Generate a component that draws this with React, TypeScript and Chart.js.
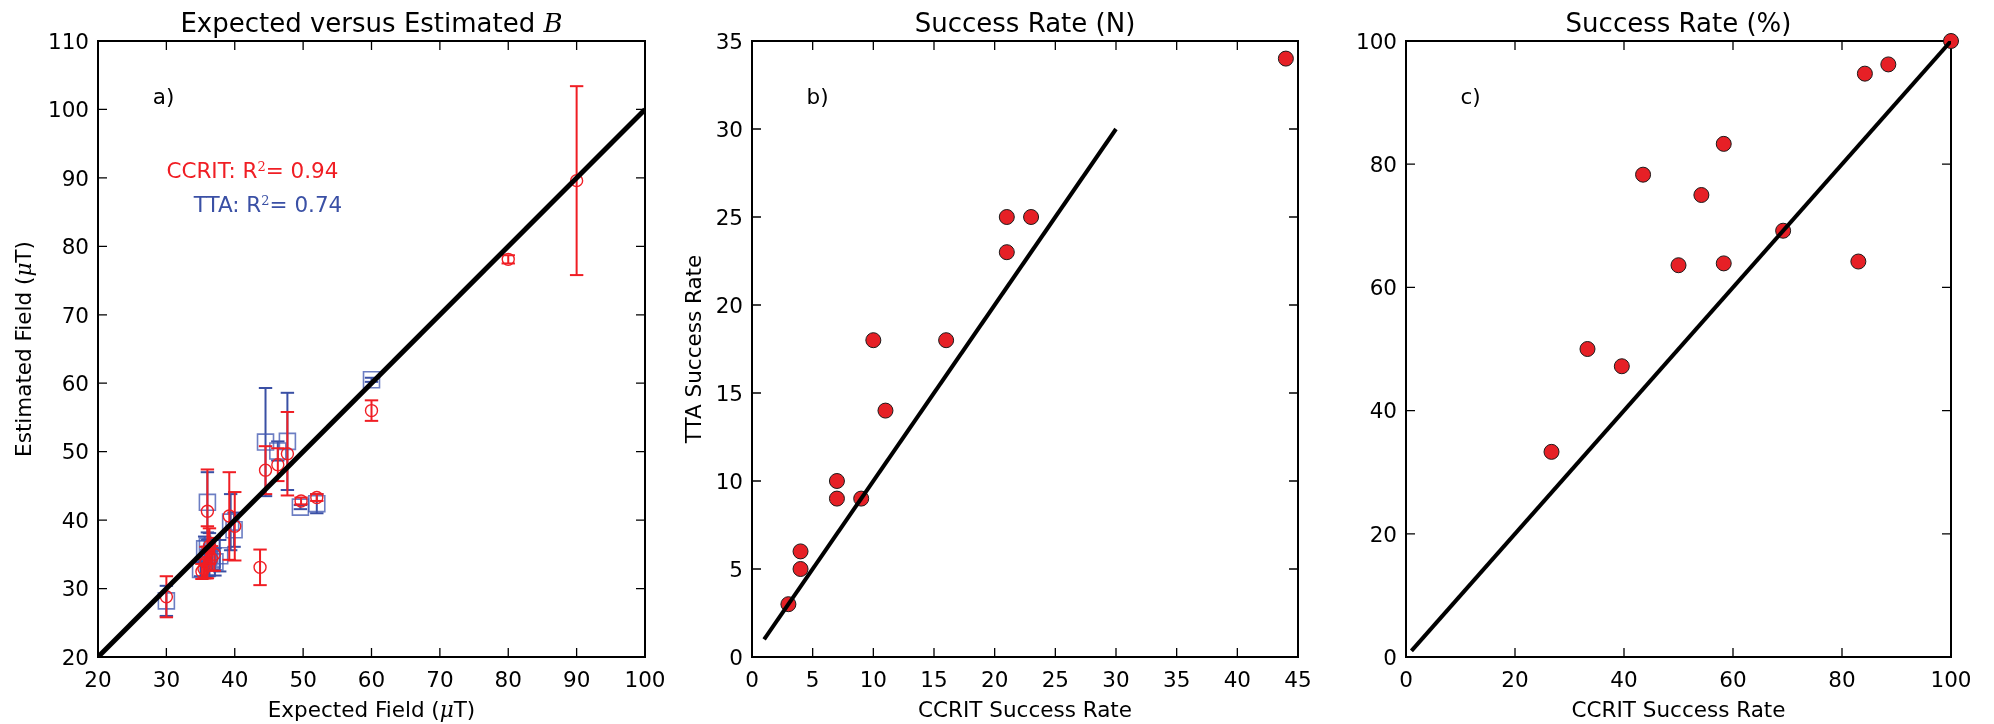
import React, { useEffect, useRef } from "react";
import { Chart, registerables } from "chart.js";
Chart.register(...registerables);

// ---------- Panel a: Expected versus Estimated B ----------
const ccritExpected = [30, 36, 39.2, 40, 43.7, 44.5, 46.3, 47.7, 49.7, 52, 60, 80, 90, 35.2, 35.5, 35.8, 36.0, 36.3, 36.6, 37.0];
const ccritEstimated = [28.8, 41.3, 40.6, 39.1, 33.1, 47.3, 48.1, 49.7, 42.8, 43.3, 56.0, 78.1, 89.6, 32.5, 32.9, 33.8, 35.3, 36.2, 34.4, 35.0];
const ccritError = [3.0, 6.1, 6.4, 5.0, 2.6, 3.5, 2.4, 6.1, 0.5, 0.5, 1.5, 0.6, 13.8, 1.1, 1.4, 2.3, 3.8, 2.6, 1.8, 2.4];

const ttaExpected = [30, 36, 39.4, 39.9, 44.5, 46.3, 47.7, 49.6, 52, 60, 35.0, 35.6, 36.0, 36.3, 36.7, 37.1, 37.8, 36.2];
const ttaEstimated = [28.2, 42.6, 39.7, 38.6, 51.4, 50.1, 51.5, 41.9, 42.4, 60.5, 32.8, 35.8, 36.2, 35.0, 34.3, 33.9, 34.8, 34.5];
const ttaError = [2.2, 4.4, 4.1, 2.5, 7.9, 1.4, 7.1, 0.3, 1.4, 0.3, 1.0, 1.8, 0.9, 3.1, 1.5, 2.0, 2.3, 2.7];

const identityA = [20, 100];
const xTicksA = { min: 20, max: 100, step: 10 };
const yTicksA = { min: 20, max: 110, step: 10 };

// ---------- Panel b: Success Rate (N) ----------
const ccritCount = [44, 21, 23, 21, 10, 16, 11, 7, 7, 9, 4, 4, 3];
const ttaCount = [34, 25, 25, 23, 18, 18, 14, 10, 9, 9, 6, 5, 3];
const identityB = [1, 30];
const xTicksB = { min: 0, max: 45, step: 5 };
const yTicksB = { min: 0, max: 35, step: 5 };

// ---------- Panel c: Success Rate (%) ----------
const ccritPct = [100, 84.2, 88.5, 58.3, 43.5, 54.2, 69.2, 50.0, 58.3, 83.0, 33.3, 39.6, 26.7];
const ttaPct = [100, 94.7, 96.2, 83.3, 78.3, 75.0, 69.2, 63.6, 63.9, 64.2, 50.0, 47.2, 33.3];
const identityC = [1, 100];
const xTicksC = { min: 0, max: 100, step: 20 };
const yTicksC = { min: 0, max: 100, step: 20 };

// ---------- Styling ----------
const W = 1994;
const H = 724;
const PLOT_TOP = 41;
const PLOT_BOTTOM = 657;
const SANS = '"DejaVu Sans"';
const SERIF = '"DejaVu Serif"';
const F_TICK = `21.5px ${SANS}`;
const F_LABEL = `21.5px ${SANS}`;
const F_TITLE = `26px ${SANS}`;
const RED = "rgb(240,30,36)";
const BLUE = "rgb(58,80,165)";
const BLUE_SQ = "rgba(66,90,178,0.78)";
const FILL_RED = "rgb(230,32,38)";

type Seg = { t: string; f: string; dy?: number };
type Note = { segs: Seg[]; color: string; x: number; y: number; frac?: boolean };

function pts(xs: number[], ys: number[]) {
  return xs.map((x, i) => ({ x, y: ys[i] }));
}
function stems(xs: number[], ys: number[], es: number[]) {
  const out: any[] = [];
  xs.forEach((x, i) => {
    out.push({ x, y: ys[i] - es[i] }, { x, y: ys[i] + es[i] }, { x, y: null });
  });
  return out;
}
function caps(xs: number[], ys: number[], es: number[]) {
  const out: any[] = [];
  xs.forEach((x, i) => {
    out.push({ x, y: ys[i] - es[i] }, { x, y: ys[i] + es[i] });
  });
  return out;
}

function drawSegs(ctx: CanvasRenderingContext2D, segs: Seg[], x: number, y: number, align: "left" | "center") {
  ctx.save();
  ctx.textAlign = "left";
  ctx.textBaseline = "alphabetic";
  let total = 0;
  const widths = segs.map((s) => {
    ctx.font = s.f;
    const w = ctx.measureText(s.t).width;
    total += w;
    return w;
  });
  let cx = align === "center" ? x - total / 2 : x;
  segs.forEach((s, i) => {
    ctx.font = s.f;
    ctx.fillText(s.t, cx, y + (s.dy || 0));
    cx += widths[i];
  });
  ctx.restore();
}

interface Spec {
  key: string;
  canvasLeft: number;
  canvasWidth: number;
  plotLeft: number;
  plotRight: number;
  xt: { min: number; max: number; step: number };
  yt: { min: number; max: number; step: number };
  title: Seg[];
  xLabel: Seg[];
  yLabel?: Seg[];
  yLabelX?: number;
  notes: Note[];
  datasets: any[];
}

function framePlugin(spec: Spec) {
  return {
    id: "frame_" + spec.key,
    beforeDatasetsDraw(chart: any) {
      const ctx: CanvasRenderingContext2D = chart.ctx;
      const a = chart.chartArea;
      const xs = chart.scales.x;
      const ys = chart.scales.y;
      const TL = 9;
      ctx.save();
      ctx.strokeStyle = "#000";
      ctx.lineWidth = 1.3;
      ctx.beginPath();
      xs.ticks.forEach((t: any) => {
        const px = xs.getPixelForValue(t.value);
        ctx.moveTo(px, a.bottom);
        ctx.lineTo(px, a.bottom - TL);
        ctx.moveTo(px, a.top);
        ctx.lineTo(px, a.top + TL);
      });
      ys.ticks.forEach((t: any) => {
        const py = ys.getPixelForValue(t.value);
        ctx.moveTo(a.left, py);
        ctx.lineTo(a.left + TL, py);
        ctx.moveTo(a.right, py);
        ctx.lineTo(a.right - TL, py);
      });
      ctx.stroke();
      ctx.lineWidth = 2;
      ctx.strokeRect(a.left, a.top, a.right - a.left, a.bottom - a.top);
      ctx.restore();
    },
    afterDraw(chart: any) {
      const ctx: CanvasRenderingContext2D = chart.ctx;
      const a = chart.chartArea;
      const xs = chart.scales.x;
      const ys = chart.scales.y;
      ctx.save();
      ctx.fillStyle = "#000";
      ctx.font = F_TICK;
      ctx.textBaseline = "alphabetic";
      ctx.textAlign = "center";
      xs.ticks.forEach((t: any) => {
        ctx.fillText(String(t.value), xs.getPixelForValue(t.value), a.bottom + 29.5);
      });
      ctx.textAlign = "right";
      ys.ticks.forEach((t: any) => {
        ctx.fillText(String(t.value), a.left - 9, ys.getPixelForValue(t.value) + 7.8);
      });

      const cx = (a.left + a.right) / 2;
      drawSegs(ctx, spec.title, cx, 31.5, "center");
      drawSegs(ctx, spec.xLabel, cx, 716.5, "center");
      if (spec.yLabel) {
        ctx.save();
        ctx.translate(spec.yLabelX as number, (a.top + a.bottom) / 2);
        ctx.rotate(-Math.PI / 2);
        drawSegs(ctx, spec.yLabel, 0, 0, "center");
        ctx.restore();
      }
      spec.notes.forEach((n) => {
        ctx.fillStyle = n.color;
        let px: number, py: number;
        if (n.frac) {
          px = a.left + n.x * (a.right - a.left);
          py = a.bottom - n.y * (a.bottom - a.top) + 1;
        } else {
          px = xs.getPixelForValue(n.x);
          py = ys.getPixelForValue(n.y);
        }
        drawSegs(ctx, n.segs, px, py, "left");
      });
      ctx.restore();
    },
  };
}

function makeConfig(spec: Spec): any {
  return {
    type: "scatter",
    data: { datasets: spec.datasets },
    options: {
      animation: false,
      responsive: false,
      devicePixelRatio: 1,
      events: [],
      layout: {
        padding: {
          top: PLOT_TOP,
          bottom: 0,
          left: 0,
          right: spec.canvasWidth - (spec.plotRight - spec.canvasLeft),
        },
      },
      plugins: { legend: { display: false }, tooltip: { enabled: false }, title: { display: false } },
      scales: {
        x: {
          type: "linear",
          position: "bottom",
          min: spec.xt.min,
          max: spec.xt.max,
          ticks: { display: false, stepSize: spec.xt.step, autoSkip: false },
          grid: { display: false },
          border: { display: false },
          afterFit: (s: any) => {
            s.height = H - PLOT_BOTTOM;
          },
        },
        y: {
          type: "linear",
          position: "left",
          min: spec.yt.min,
          max: spec.yt.max,
          ticks: { display: false, stepSize: spec.yt.step, autoSkip: false },
          grid: { display: false },
          border: { display: false },
          afterFit: (s: any) => {
            s.width = spec.plotLeft - spec.canvasLeft;
          },
        },
      },
    },
    plugins: [framePlugin(spec)],
  };
}

const lineDs = (xs: number[], width: number, order: number) => ({
  data: pts(xs, xs),
  showLine: true,
  borderColor: "#000",
  borderWidth: width,
  pointRadius: 0,
  order,
});

const datasetsA = [
  lineDs(identityA, 5, 0),
  {
    data: pts(ccritExpected, ccritEstimated),
    pointStyle: "circle",
    pointRadius: 6,
    pointBorderWidth: 1.4,
    borderColor: RED,
    pointBorderColor: RED,
    backgroundColor: "rgba(0,0,0,0)",
    pointBackgroundColor: "rgba(0,0,0,0)",
    order: 1,
  },
  {
    data: caps(ccritExpected, ccritEstimated, ccritError),
    pointStyle: "line",
    pointRadius: 6.7,
    pointBorderWidth: 2,
    borderColor: RED,
    pointBorderColor: RED,
    order: 2,
  },
  {
    data: stems(ccritExpected, ccritEstimated, ccritError),
    showLine: true,
    spanGaps: false,
    borderColor: RED,
    borderWidth: 2,
    pointRadius: 0,
    order: 3,
  },
  {
    data: pts(ttaExpected, ttaEstimated),
    pointStyle: "rect",
    pointRadius: 11.3,
    pointBorderWidth: 1.6,
    borderColor: BLUE_SQ,
    pointBorderColor: BLUE_SQ,
    backgroundColor: "rgba(0,0,0,0)",
    pointBackgroundColor: "rgba(0,0,0,0)",
    order: 4,
  },
  {
    data: caps(ttaExpected, ttaEstimated, ttaError),
    pointStyle: "line",
    pointRadius: 6.7,
    pointBorderWidth: 2,
    borderColor: BLUE,
    pointBorderColor: BLUE,
    order: 5,
  },
  {
    data: stems(ttaExpected, ttaEstimated, ttaError),
    showLine: true,
    spanGaps: false,
    borderColor: BLUE,
    borderWidth: 2,
    pointRadius: 0,
    order: 6,
  },
];

const markerDs = (xs: number[], ys: number[]) => ({
  data: pts(xs, ys),
  pointStyle: "circle",
  pointRadius: 7.5,
  pointBorderWidth: 1,
  borderColor: "#1a1a1a",
  pointBorderColor: "#1a1a1a",
  backgroundColor: FILL_RED,
  pointBackgroundColor: FILL_RED,
  clip: false,
  order: 1,
});

const datasetsB = [lineDs(identityB, 4, 0), markerDs(ccritCount, ttaCount)];
const datasetsC = [lineDs(identityC, 4, 0), markerDs(ccritPct, ttaPct)];

const mu = (): Seg => ({ t: "\u03bc", f: `italic 21.5px ${SERIF}` });

const specs: Spec[] = [
  {
    key: "a",
    canvasLeft: 0,
    canvasWidth: 700,
    plotLeft: 98,
    plotRight: 645,
    xt: xTicksA,
    yt: yTicksA,
    title: [
      { t: "Expected versus Estimated ", f: F_TITLE },
      { t: "B", f: `italic 26px ${SERIF}` },
    ],
    xLabel: [{ t: "Expected Field (", f: F_LABEL }, mu(), { t: "T)", f: F_LABEL }],
    yLabel: [{ t: "Estimated Field (", f: F_LABEL }, mu(), { t: "T)", f: F_LABEL }],
    yLabelX: 30.5,
    notes: [
      { segs: [{ t: "a)", f: F_LABEL }], color: "#000", x: 0.1, y: 0.9, frac: true },
      {
        segs: [
          { t: "CCRIT: R", f: F_LABEL },
          { t: "2", f: `13px ${SERIF}`, dy: -7 },
          { t: "= 0.94", f: F_LABEL },
        ],
        color: RED,
        x: 30,
        y: 90,
      },
      {
        segs: [
          { t: "TTA: R", f: F_LABEL },
          { t: "2", f: `13px ${SERIF}`, dy: -7 },
          { t: "= 0.74", f: F_LABEL },
        ],
        color: BLUE,
        x: 34,
        y: 85,
      },
    ],
    datasets: datasetsA,
  },
  {
    key: "b",
    canvasLeft: 660,
    canvasWidth: 700,
    plotLeft: 752,
    plotRight: 1298,
    xt: xTicksB,
    yt: yTicksB,
    title: [{ t: "Success Rate (N)", f: F_TITLE }],
    xLabel: [{ t: "CCRIT Success Rate", f: F_LABEL }],
    yLabel: [{ t: "TTA Success Rate", f: F_LABEL }],
    yLabelX: 40.5,
    notes: [{ segs: [{ t: "b)", f: F_LABEL }], color: "#000", x: 0.1, y: 0.9, frac: true }],
    datasets: datasetsB,
  },
  {
    key: "c",
    canvasLeft: 1320,
    canvasWidth: 674,
    plotLeft: 1406,
    plotRight: 1951,
    xt: xTicksC,
    yt: yTicksC,
    title: [{ t: "Success Rate (%)", f: F_TITLE }],
    xLabel: [{ t: "CCRIT Success Rate", f: F_LABEL }],
    notes: [{ segs: [{ t: "c)", f: F_LABEL }], color: "#000", x: 0.1, y: 0.9, frac: true }],
    datasets: datasetsC,
  },
];

function Panel({ spec }: { spec: Spec }) {
  const ref = useRef<HTMLCanvasElement>(null);
  useEffect(() => {
    const chart = new Chart(ref.current as HTMLCanvasElement, makeConfig(spec));
    return () => chart.destroy();
  }, [spec]);
  return (
    <canvas
      ref={ref}
      width={spec.canvasWidth}
      height={H}
      style={{ position: "absolute", left: spec.canvasLeft, top: 0, width: spec.canvasWidth, height: H }}
    />
  );
}

export default function App() {
  return (
    <div style={{ position: "absolute", left: 0, top: 0, width: W, height: H, background: "#fff", overflow: "hidden" }}>
      {specs.map((s) => (
        <Panel key={s.key} spec={s} />
      ))}
    </div>
  );
}
